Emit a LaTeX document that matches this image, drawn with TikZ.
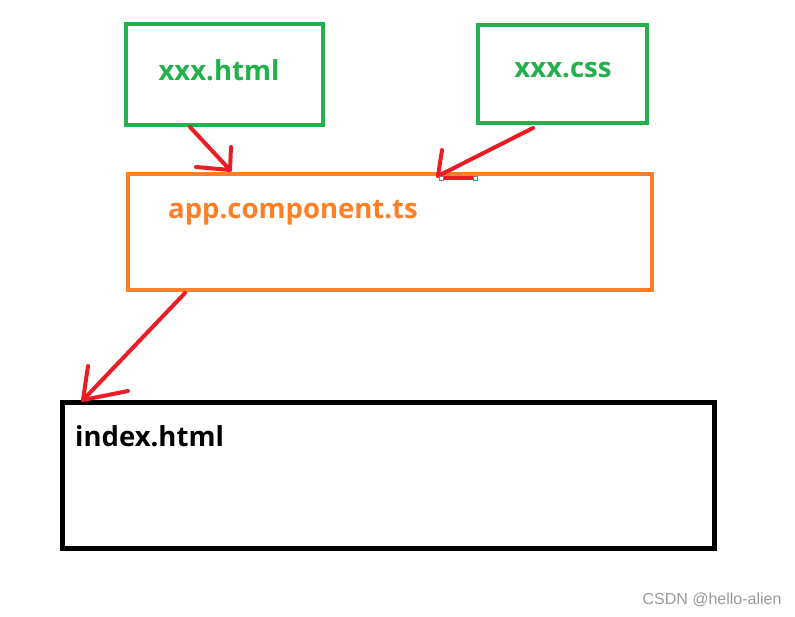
\documentclass[tikz,border=0pt]{standalone}
\usepackage{fontspec}
\setmainfont{Open Sans}
\newfontfamily\wmfont{Liberation Sans}
\definecolor{pgreen}{HTML}{22B14C}
\definecolor{porange}{HTML}{FF7F27}
\definecolor{pred}{HTML}{ED1C24}
\definecolor{wmgray}{HTML}{9A9A9A}
\begin{document}
\begin{tikzpicture}[x=1pt,y=-1pt,
  box/.style={draw,rectangle,inner sep=0pt,outer sep=0pt,line width=4pt},
  lbl/.style={inner sep=0pt,font=\fontsize{27.5}{31}\selectfont\bfseries},
  arr/.style={draw=pred,line width=4pt,line cap=round,line join=round},
  handle/.style={draw=gray,fill=white,line width=0.8pt,inner sep=0pt,minimum size=4pt,rectangle}]
\useasboundingbox (0,0) rectangle (795,616);
\fill[white] (0,0) rectangle (795,616);
% boxes
\node[box,draw=pgreen,minimum width=197pt,minimum height=101pt] (html) at (224.5,74.5) {};
\node[box,draw=pgreen,minimum width=169pt,minimum height=98pt] (css) at (562.5,74) {};
\node[box,draw=porange,minimum width=524pt,minimum height=116pt] (app) at (390,232) {};
\node[box,draw=black,line width=5pt,minimum width=652pt,minimum height=146pt] (index) at (388,475) {};
% labels
\node[lbl,text=pgreen] (thtml) at (219,70) {xxx.html};
\node[lbl,text=pgreen] (tcss) at (563,70) {xxx.css};
\node[lbl,text=porange,anchor=west] (tapp) at (168,213) {app.component.ts};
\node[lbl,text=black,anchor=west] (tindex) at (75,436) {index.html};
% arrows
\coordinate (a1s) at (190,127);
\coordinate (a1e) at (230,170);
\coordinate (a1v) at (231,147);
\coordinate (a1h) at (196,167);
\draw[arr] (a1s) -- (a1e);
\draw[arr] (a1v) -- (a1e) -- (a1h);
\coordinate (a2s) at (533,128);
\coordinate (a2e) at (438,176);
\coordinate (a2v) at (442,150);
\coordinate (a2h) at (474,178);
\draw[arr] (a2s) -- (a2e);
\draw[arr] (a2v) -- (a2e);
\draw[arr] (441,178) -- (a2h);
\node[handle] (h1) at (441,178) {};
\node[handle] (h2) at (475,178) {};
\coordinate (a3s) at (185,293);
\coordinate (a3e) at (83,400);
\coordinate (a3v) at (88,366);
\coordinate (a3h) at (128,391);
\draw[arr] (a3s) -- (a3e);
\draw[arr] (a3v) -- (a3e) -- (a3h);
% watermark
\node[text=wmgray,font=\wmfont\fontsize{16}{18}\selectfont,inner sep=0pt] (wm) at (712,600) {CSDN @hello-alien};
\end{tikzpicture}
\end{document}
